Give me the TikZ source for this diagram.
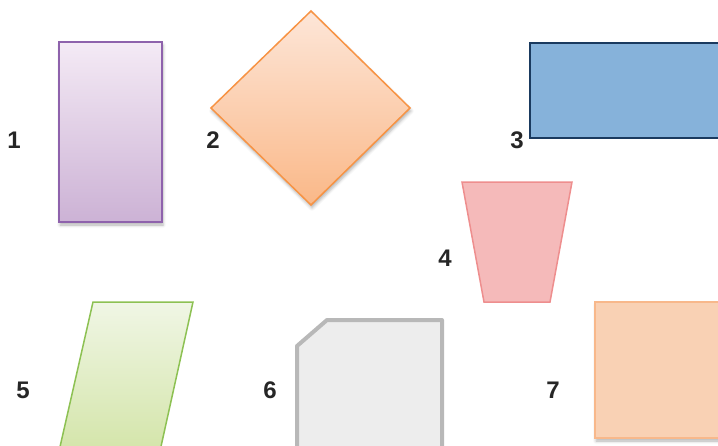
\documentclass[tikz,border=0pt]{standalone}
\usepackage{fontspec}
\setmainfont{Liberation Sans}
\usetikzlibrary{shadows.blur}
\definecolor{purpT}{HTML}{F4EAF5}
\definecolor{purpB}{HTML}{CCB2D5}
\definecolor{purpL}{HTML}{8E62AC}
\definecolor{orT}{HTML}{FDE6D8}
\definecolor{orB}{HTML}{FAB888}
\definecolor{orL}{HTML}{F79344}
\definecolor{blF}{HTML}{86B2DA}
\definecolor{blL}{HTML}{1A3A5F}
\definecolor{pkF}{HTML}{F5BABA}
\definecolor{pkL}{HTML}{EE8E8E}
\definecolor{grT}{HTML}{F0F6E5}
\definecolor{grB}{HTML}{D2E4A6}
\definecolor{grL}{HTML}{8DC153}
\definecolor{gyF}{HTML}{EDEDED}
\definecolor{gyL}{HTML}{B8B8B8}
\definecolor{pcF}{HTML}{F9D1B4}
\definecolor{pcL}{HTML}{F8B88B}
\definecolor{txt}{HTML}{262626}
\tikzset{
  numlabel/.style={font=\fontsize{24}{24}\selectfont\bfseries, text=txt, inner sep=0pt},
  shapeline/.style={line width=1.5pt, line join=miter},
  softshadow/.style={blur shadow={shadow xshift=1pt, shadow yshift=-3pt, shadow blur radius=3pt, shadow opacity=30}}
}
\begin{document}
\begin{tikzpicture}[x=1pt,y=-1pt]
\useasboundingbox (0,0) rectangle (718,445);
\clip (0,0) rectangle (718,445);
% 1 rectangle
\path[shapeline, draw=purpL, top color=purpT, bottom color=purpB, softshadow] (59,42) rectangle (162,222);
\node[numlabel] (n1) at (14,140) {1};
% 2 diamond
\path[shapeline, draw=orL, top color=orT, bottom color=orB, softshadow] (311,11) -- (410,108) -- (311,205) -- (211,108) -- cycle;
\node[numlabel] (n2) at (213,140) {2};
% 3 rectangle
\path[shapeline, draw=blL, fill=blF] (530,43) rectangle (730,138);
\node[numlabel] (n3) at (517,140) {3};
% 4 trapezoid
\path[shapeline, draw=pkL, fill=pkF] (462,182) -- (572,182) -- (550,302) -- (484,302) -- cycle;
\node[numlabel] (n4) at (445,258) {4};
% 5 parallelogram
\path[shapeline, draw=grL, top color=grT, bottom color=grB] (93,302) -- (193,302) -- (158,460) -- (57,460) -- cycle;
\node[numlabel] (n5) at (23,390) {5};
% 6 snipped rectangle
\path[line width=4pt, line join=round, draw=gyL, fill=gyF] (297,460) -- (297,346) -- (327,320) -- (442,320) -- (442,460);
\node[numlabel] (n6) at (270,390) {6};
% 7 square
\path[shapeline, draw=pcL, fill=pcF, softshadow] (595,302) rectangle (730,438);
\node[numlabel] (n7) at (553,390) {7};
\end{tikzpicture}
\end{document}
